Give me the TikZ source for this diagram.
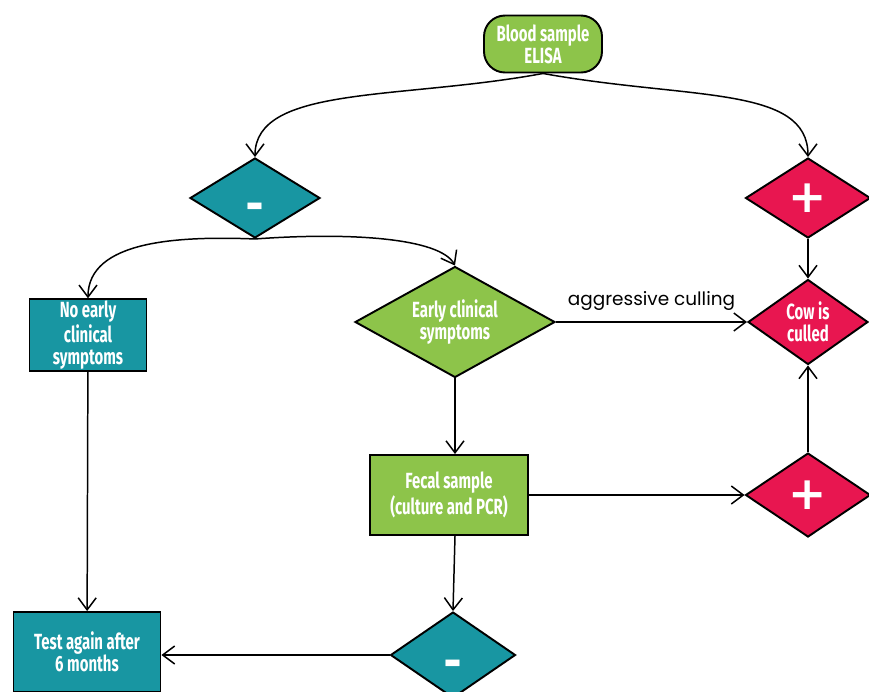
\documentclass[tikz,border=0pt]{standalone}
\usepackage{fontspec}
\setmainfont{Fira Sans}[FakeStretch=0.68]
\newfontfamily\signfont{DejaVu Sans}
\newfontfamily\labelfont{Poppins}
\usetikzlibrary{positioning, arrows.meta, shapes.geometric}

\definecolor{tealfill}{RGB}{24,150,162}
\definecolor{greenfill}{RGB}{141,196,74}
\definecolor{redfill}{RGB}{232,22,80}

\tikzset{
  box/.style={draw=black, line width=1.1pt, text=white, align=center, inner sep=1pt,
    font=\bfseries\fontsize{12.5}{12.5}\selectfont},
  tealbox/.style={box, rectangle, fill=tealfill},
  greenbox/.style={box, rectangle, fill=greenfill},
  greenround/.style={greenbox, rounded corners=0.42cm},
  diam/.style={box, diamond, aspect=1.6, inner sep=0pt},
  sign/.style={font=\signfont\bfseries\fontsize{26}{26}\selectfont},
  minus/.style={sign, text height=24pt, text depth=0pt},
  conn/.style={line width=0.85pt, draw=black}
}

\begin{document}
\begin{tikzpicture}[x=0.02cm, y=-0.02cm, >={Straight Barb[length=2.4mm,width=3.6mm]}]
    \useasboundingbox (0,0) rectangle (869,691);
    \clip (0,0) rectangle (869,691);
    \fill[white] (0,0) rectangle (869,691);

    \node[greenround, minimum width=2.36cm, minimum height=1.14cm] (blood) at (543,44) {Blood sample\\ELISA};
    \node[diam, fill=tealfill, minus, minimum width=2.6cm, minimum height=1.6cm] (neg1) at (255,198) {-};
    \node[diam, fill=redfill, sign, minimum width=2.5cm, minimum height=1.6cm] (pos1) at (808,198) {+};

    \node[tealbox, minimum width=2.34cm, minimum height=1.4cm] (noearly) at (88,335) {No early\\clinical\\symptoms};
    \node[diam, fill=greenfill, minimum width=4cm, minimum height=2.22cm] (early) at (455,322) {Early clinical\\symptoms};
    \node[diam, fill=redfill, minimum width=2.4cm, minimum height=1.7cm] (cull) at (808,322) {Cow is\\culled};

    \node[greenbox, minimum width=3.16cm, minimum height=1.6cm] (fecal) at (449,495) {Fecal sample\\(culture and PCR)};
    \node[diam, fill=redfill, sign, minimum width=2.5cm, minimum height=1.68cm] (pos2) at (808,495) {+};

    \node[tealbox, minimum width=2.94cm, minimum height=1.6cm] (retest) at (87,652) {Test again after\\6 months};
    \node[diam, fill=tealfill, minus, minimum width=2.5cm, minimum height=1.72cm] (neg2) at (453,655) {-};

    % curved branches
    \draw[conn, ->] (blood.south) .. controls (400,100) and (255,85) .. (neg1.north);
    \draw[conn, ->] (blood.south) .. controls (690,100) and (808,85) .. (pos1.north);
    \draw[conn, ->] (neg1.south) .. controls (180,236) and (88,240) .. (noearly.north);
    \draw[conn, ->] (neg1.south) .. controls (350,232) and (440,238) .. (early.north);

    \draw[conn, ->] (early) -- node[above=3pt, text=black, font=\labelfont\fontsize{10.5}{10.5}\selectfont]{aggressive culling} (cull);
    \draw[conn, ->] (pos1) -- (cull);
    \draw[conn, ->] (pos2) -- (cull);
    \draw[conn, ->] (early.south) -- (early.south |- fecal.north);
    \draw[conn, ->] (fecal) -- (pos2);
    \draw[conn, ->] (early.south |- fecal.south) -- (neg2.north);
    \draw[conn, ->] (noearly) -- (retest);
    \draw[conn, ->] (neg2) -- (neg2 -| retest.east);
\end{tikzpicture}
\end{document}
